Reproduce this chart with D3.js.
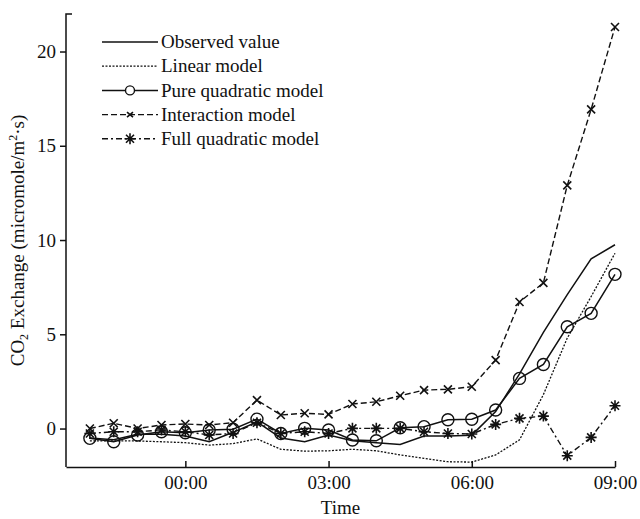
<!DOCTYPE html>
<html>
<head>
  <style>
    body {
        margin: 0;
        background: #fff;
    }
    svg text {
        font-family: "Liberation Serif", "DejaVu Serif", serif;
        fill: #111;
    }
  </style>
</head>
<body>
<script src="https://d3js.org/d3.v7.min.js"></script>
<div id="chart"></div>
<script>
    // Half-hour readings from 22:00 to 09:00
    const times = ["22:00","22:30","23:00","23:30","00:00","00:30","01:00","01:30","02:00","02:30","03:00","03:30",
                   "04:00","04:30","05:00","05:30","06:00","06:30","07:00","07:30","08:00","08:30","09:00"];

    const observed = [-0.5, -0.6, -0.3, -0.3, -0.4, -0.7, -0.2, 0.35, -0.5, -0.7, -0.35, -0.65,
                      -0.75, -0.85, -0.4, -0.4, -0.35, 0.9, 2.9, 5.1, 7.1, 9.0, 9.75];
    const linear = [-0.65, -0.65, -0.66, -0.7, -0.75, -0.88, -0.8, -0.55, -1.1, -1.2, -1.18, -1.1,
                    -1.18, -1.4, -1.58, -1.76, -1.78, -1.4, -0.6, 1.8, 4.8, 7.0, 9.3];
    const pureQuadratic = [-0.52, -0.7, -0.34, -0.17, -0.22, -0.08, -0.04, 0.5, -0.26, 0.01, -0.08, -0.61,
                           -0.65, 0.04, 0.1, 0.47, 0.49, 0.98, 2.66, 3.4, 5.4, 6.11, 8.18];
    const interaction = [0.0, 0.28, 0.0, 0.19, 0.24, 0.19, 0.31, 1.51, 0.72, 0.81, 0.75, 1.30,
                         1.42, 1.74, 2.04, 2.08, 2.22, 3.63, 6.71, 7.73, 12.9, 16.93, 21.3];
    const fullQuadratic = [-0.26, -0.17, -0.17, -0.08, -0.17, -0.34, -0.26, 0.31, -0.26, -0.17, -0.26, 0.01,
                           0.01, 0.01, -0.17, -0.26, -0.29, 0.22, 0.54, 0.66, -1.44, -0.47, 1.21];

    const xTicks = ["00:00", "03:00", "06:00", "09:00"];
    const yTicks = [0, 5, 10, 15, 20];

    // hours relative to midnight
    const toHours = s => {
      const [h, m] = s.split(":").map(Number);
      const v = h + m / 60;
      return v >= 12 ? v - 24 : v;
    };

    const series = [
      { name: "Observed value", values: observed, dash: null, width: 1.5, marker: null },
      { name: "Linear model", values: linear, dash: "2,1.5", width: 1.3, marker: null },
      { name: "Pure quadratic model", values: pureQuadratic, dash: null, width: 1.5, marker: "circle" },
      { name: "Interaction model", values: interaction, dash: "6,3", width: 1.4, marker: "x" },
      { name: "Full quadratic model", values: fullQuadratic, dash: "6,3,2,3", width: 1.4, marker: "star" }
    ];

    const W = 640, H = 519;
    const svg = d3.select("#chart").append("svg")
      .attr("width", W)
      .attr("height", H);

    const x = d3.scaleLinear().domain([-2.5, 9]).range([66, 615]);
    const y = d3.scaleLinear().domain([-2.04, 21.99]).range([467, 14]);

    // Axes
    const xAxis = d3.axisBottom(x)
      .tickValues(xTicks.map(toHours))
      .tickFormat((d, i) => xTicks[i])
      .tickSize(-6)
      .tickSizeOuter(0)
      .tickPadding(9);

    const gx = svg.append("g")
      .attr("transform", `translate(0,${y.range()[0]})`)
      .call(xAxis);
    gx.select(".domain").attr("stroke", "#111").attr("stroke-width", 1.5);
    gx.selectAll(".tick line").attr("stroke", "#111").attr("stroke-width", 1.5);
    gx.selectAll("text").style("font-size", "19px");

    const yAxis = d3.axisLeft(y)
      .tickValues(yTicks)
      .tickSize(6)
      .tickSizeOuter(0)
      .tickPadding(4);

    const gy = svg.append("g")
      .attr("transform", `translate(${x.range()[0]},0)`)
      .call(yAxis);
    gy.select(".domain").remove();
    gy.selectAll(".tick line").attr("stroke", "#111").attr("stroke-width", 1.5);
    gy.selectAll("text").style("font-size", "19px");

    // left spine with small inward stub at the top
    gy.append("path")
      .attr("d", `M6,${y.range()[1]}H0V${y.range()[0]}`)
      .attr("fill", "none")
      .attr("stroke", "#111")
      .attr("stroke-width", 1.5);

    // Axis titles
    svg.append("text")
      .attr("x", (x.range()[0] + x.range()[1]) / 2)
      .attr("y", 514)
      .attr("text-anchor", "middle")
      .style("font-size", "19px")
      .text("Time");

    const yl = svg.append("text")
      .attr("transform", `translate(24,${(y.range()[0] + y.range()[1]) / 2}) rotate(-90)`)
      .attr("text-anchor", "middle")
      .style("font-size", "19px");
    yl.append("tspan").text("CO");
    yl.append("tspan").attr("dy", 4).style("font-size", "12px").text("2");
    yl.append("tspan").attr("dy", -4).text(" Exchange (micromole/m");
    yl.append("tspan").attr("dy", -7).style("font-size", "12px").text("2");
    yl.append("tspan").attr("dy", 7).text("\u00b7s)");

    // Marker drawing
    function drawMarker(g, type, cx, cy) {
      if (type === "circle") {
        g.append("circle")
          .attr("cx", cx).attr("cy", cy).attr("r", 6)
          .attr("fill", "none").attr("stroke", "#111").attr("stroke-width", 1.4);
      } else if (type === "x") {
        const s = 4;
        g.append("path")
          .attr("d", `M${cx - s},${cy - s}L${cx + s},${cy + s}M${cx - s},${cy + s}L${cx + s},${cy - s}`)
          .attr("stroke", "#111").attr("stroke-width", 1.6);
      } else if (type === "star") {
        const s = 5.5, d = 4;
        g.append("path")
          .attr("d", `M${cx - s},${cy}L${cx + s},${cy}M${cx},${cy - s}L${cx},${cy + s}` +
                     `M${cx - d},${cy - d}L${cx + d},${cy + d}M${cx - d},${cy + d}L${cx + d},${cy - d}`)
          .attr("stroke", "#111").attr("stroke-width", 1.6);
      }
    }

    const line = d3.line()
      .x((d, i) => x(toHours(times[i])))
      .y(d => y(d));

    const plot = svg.append("g");
    series.forEach(s => {
      plot.append("path")
        .datum(s.values)
        .attr("d", line)
        .attr("fill", "none")
        .attr("stroke", "#111")
        .attr("stroke-width", s.width)
        .attr("stroke-dasharray", s.dash);
    });
    series.forEach(s => {
      if (!s.marker) return;
      const mg = plot.append("g");
      s.values.forEach((v, i) => drawMarker(mg, s.marker, x(toHours(times[i])), y(v)));
    });

    // Legend
    const legend = svg.append("g");
    series.forEach((s, i) => {
      const ly = 42 + i * 24.2;
      legend.append("line")
        .attr("x1", 102).attr("x2", 158)
        .attr("y1", ly).attr("y2", ly)
        .attr("stroke", "#111")
        .attr("stroke-width", s.width)
        .attr("stroke-dasharray", s.dash);
      if (s.marker === "circle") {
        legend.append("circle").attr("cx", 130).attr("cy", ly).attr("r", 4.5)
          .attr("fill", "#fff").attr("stroke", "#111").attr("stroke-width", 1.4);
      } else if (s.marker === "x") {
        legend.append("path").attr("d", `M127,${ly - 2.5}L133,${ly + 2.5}M127,${ly + 2.5}L133,${ly - 2.5}`)
          .attr("stroke", "#111").attr("stroke-width", 1.6);
      } else if (s.marker === "star") {
        drawMarker(legend, "star", 130, ly);
      }
      legend.append("text")
        .attr("x", 161).attr("y", ly)
        .attr("dy", "0.33em")
        .style("font-size", "19px")
        .text(s.name);
    });
</script>
</body>
</html>
